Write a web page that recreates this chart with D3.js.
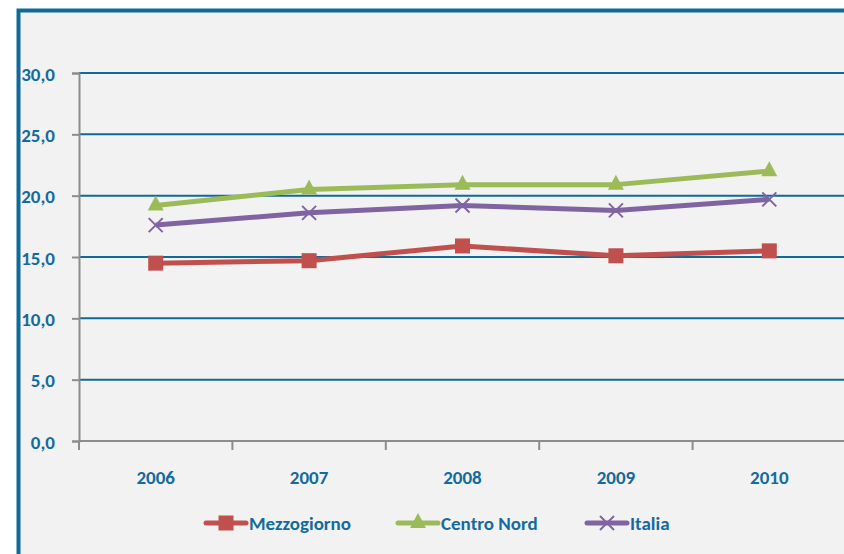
<!DOCTYPE html>
<html>
<head>
<meta charset="utf-8">
<script src="https://cdn.jsdelivr.net/npm/d3@7"></script>
<style>
  html, body { margin: 0; padding: 0; background: #fff; }
  svg { display: block; }
  text { font-family: Carlito, Lato, "Open Sans", sans-serif; font-weight: bold; fill: #156a9c; }
</style>
</head>
<body>
<svg id="chart" width="844" height="554"></svg>
<script>
const years = ['2006', '2007', '2008', '2009', '2010']
const mezzogiorno = [14.5, 14.7, 15.9, 15.1, 15.5]
const centroNord = [19.2, 20.5, 20.9, 20.9, 22.0]
const italia = [17.6, 18.6, 19.2, 18.8, 19.7]
const yTicks = [0, 5, 10, 15, 20, 25, 30]

const series = [
  { name: 'Mezzogiorno', values: mezzogiorno, color: '#c0504d', marker: 'square' },
  { name: 'Centro Nord', values: centroNord, color: '#9bbb59', marker: 'triangle' },
  { name: 'Italia', values: italia, color: '#8064a2', marker: 'x' }
]

const width = 844
const height = 554
const margin = { top: 73, right: -2, bottom: 113, left: 79 }
const aWidth = width - margin.left - margin.right
const aHeight = height - margin.top - margin.bottom

const svg = d3.select('#chart')

// frame
svg.append('rect')
  .attr('x', 18.5).attr('y', 10.5)
  .attr('width', 900).attr('height', 600)
  .attr('fill', '#f2f2f2')
  .attr('stroke', '#0f6a9c')
  .attr('stroke-width', 4)

const xScale = d3.scaleBand().domain(years).range([0, aWidth])
const yScale = d3.scaleLinear().domain([0, 30]).range([aHeight, 0])

const g = svg.append('g')
  .attr('transform', 'translate(' + margin.left + ',' + margin.top + ')')

// gridlines
g.selectAll('.grid').data(yTicks.filter(d => d > 0)).enter()
  .append('line')
    .attr('x1', 0).attr('x2', aWidth + 10)
    .attr('y1', d => yScale(d)).attr('y2', d => yScale(d))
    .attr('stroke', '#0f6a9c')
    .attr('stroke-width', 2)

// y axis
const yAxis = g.append('g')
  .call(d3.axisLeft(yScale).tickValues(yTicks).tickSize(7).tickPadding(17)
    .tickFormat(d => d3.format('.1f')(d).replace('.', ',')))
yAxis.select('.domain').attr('stroke', '#8c8c8c').attr('stroke-width', 2)
yAxis.selectAll('.tick line').attr('stroke', '#8c8c8c').attr('stroke-width', 2)
yAxis.selectAll('.tick text').attr('font-size', 19).attr('dy', '0.38em')
  .style('font-family', 'Carlito, Lato, "Open Sans", sans-serif')
  .style('font-weight', 'bold').attr('fill', '#156a9c')

// x axis
const xAxis = g.append('g')
  .attr('transform', 'translate(0,' + aHeight + ')')
xAxis.append('line')
  .attr('x1', 0).attr('x2', aWidth + 10)
  .attr('stroke', '#8c8c8c').attr('stroke-width', 2)
xAxis.selectAll('.xtick').data(years).enter()
  .append('line')
    .attr('x1', d => xScale(d)).attr('x2', d => xScale(d))
    .attr('y1', 0).attr('y2', 9)
    .attr('stroke', '#8c8c8c').attr('stroke-width', 2)
xAxis.selectAll('.xlabel').data(years).enter()
  .append('text')
    .attr('x', d => xScale(d) + xScale.bandwidth() / 2)
    .attr('y', 43)
    .attr('text-anchor', 'middle')
    .attr('font-size', 19)
    .text(d => d)

const line = d3.line()
  .x((d, i) => xScale(years[i]) + xScale.bandwidth() / 2)
  .y(d => yScale(d))

function drawMarker (sel, type, color) {
  if (type === 'square') {
    sel.append('rect').attr('x', -7.5).attr('y', -7.5).attr('width', 15).attr('height', 15)
      .attr('fill', color)
  } else if (type === 'triangle') {
    sel.append('path').attr('d', 'M0,-10 L8,5 L-8,5 Z').attr('fill', color)
  } else {
    sel.append('path').attr('d', 'M-7,-7 L7,7 M-7,7 L7,-7')
      .attr('stroke', color).attr('stroke-width', 2).attr('fill', 'none')
  }
}

series.forEach(s => {
  g.append('path')
    .datum(s.values)
    .attr('d', line)
    .attr('fill', 'none')
    .attr('stroke', s.color)
    .attr('stroke-width', 5)
    .attr('stroke-linejoin', 'round')

  g.selectAll(null).data(s.values).enter()
    .append('g')
      .attr('transform', (d, i) => 'translate(' + (xScale(years[i]) + xScale.bandwidth() / 2) + ',' + yScale(d) + ')')
      .each(function () { drawMarker(d3.select(this), s.marker, s.color) })
})

// legend
const legendX = [206, 398, 587]
const legend = svg.append('g').attr('transform', 'translate(0,523)')
series.forEach((s, i) => {
  const lg = legend.append('g').attr('transform', 'translate(' + legendX[i] + ',0)')
  lg.append('line').attr('x1', 0).attr('x2', 40).attr('y1', 0).attr('y2', 0)
    .attr('stroke', s.color).attr('stroke-width', 5).attr('stroke-linecap', 'round')
  const m = lg.append('g').attr('transform', 'translate(20,0)')
  drawMarker(m, s.marker, s.color)
  lg.append('text').attr('x', 43).attr('y', 7).attr('font-size', 19).text(s.name)
})
</script>
</body>
</html>
